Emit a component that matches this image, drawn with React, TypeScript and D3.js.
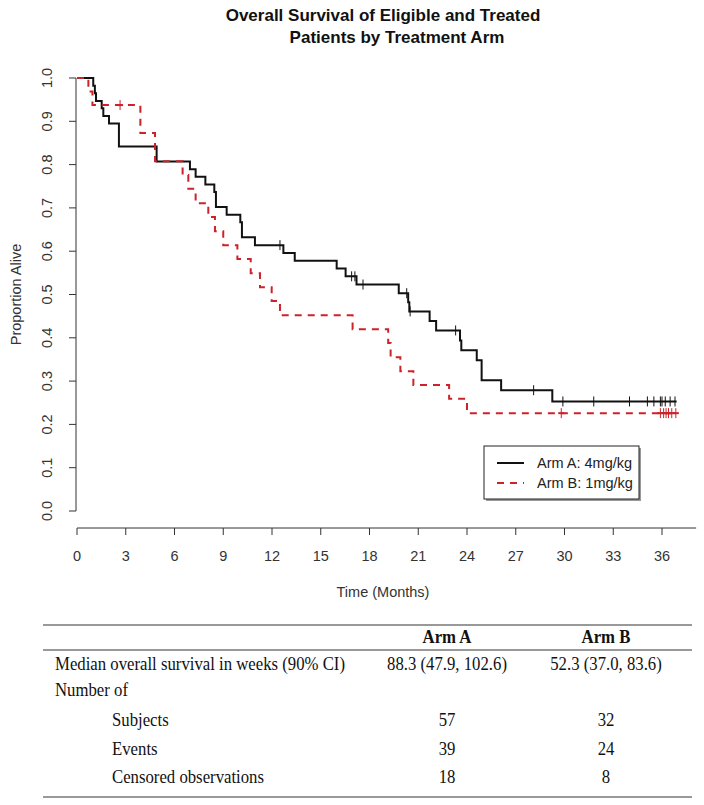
import React from 'react';
import * as d3 from 'd3';

// ---- Data ----
const armATimes = [0, 1.0, 1.1, 1.17, 1.52, 1.62, 1.97, 2.58, 4.9, 6.95, 7.3, 7.9, 8.45, 8.55, 9.21, 10.05, 10.15, 10.95, 12.7, 13.4, 15.98, 16.53, 17.2, 19.8, 20.38, 20.45, 21.7, 22.1, 23.57, 23.65, 24.6, 24.9, 26.1, 29.25, 36.9];
const armASurv = [1, 0.982, 0.965, 0.947, 0.930, 0.912, 0.895, 0.842, 0.807, 0.789, 0.772, 0.754, 0.737, 0.702, 0.684, 0.667, 0.632, 0.614, 0.596, 0.578, 0.560, 0.542, 0.523, 0.503, 0.482, 0.461, 0.439, 0.417, 0.394, 0.371, 0.348, 0.302, 0.279, 0.253, 0.253];
const armACensor = [12.49, 16.9, 17.1, 17.6, 20.29, 20.5, 23.3, 28.1, 29.9, 31.8, 34.0, 35.1, 35.5, 35.9, 36.0, 36.2, 36.5, 36.8];

const armBTimes = [0, 0.7, 0.95, 3.9, 4.8, 6.5, 6.85, 7.3, 8.08, 8.49, 9.0, 9.87, 10.69, 11.26, 11.98, 12.49, 16.96, 19.15, 19.3, 19.9, 20.7, 22.9, 24.0, 36.9];
const armBSurv = [1, 0.969, 0.9375, 0.873, 0.808, 0.776, 0.744, 0.711, 0.679, 0.646, 0.614, 0.582, 0.549, 0.517, 0.485, 0.452, 0.420, 0.388, 0.355, 0.323, 0.291, 0.259, 0.226, 0.226];
const armBCensor = [2.65, 29.8, 35.9, 36.1, 36.25, 36.4, 36.6, 36.85];

const xTicks = [0, 3, 6, 9, 12, 15, 18, 21, 24, 27, 30, 33, 36];
const yTicks = [0, 0.1, 0.2, 0.3, 0.4, 0.5, 0.6, 0.7, 0.8, 0.9, 1.0];

const legendLabels = ['Arm A: 4mg/kg', 'Arm B: 1mg/kg'];
const titleLines = ['Overall Survival of Eligible and Treated', 'Patients by Treatment Arm'];

const tableHeader = ['Arm A', 'Arm B'];
const rowLabels = ['Median overall survival in weeks (90% CI)', 'Number of', 'Subjects', 'Events', 'Censored observations'];
const rowIndented = [false, false, true, true, true];
const armAColumn = ['88.3 (47.9, 102.6)', '', '57', '39', '18'];
const armBColumn = ['52.3 (37.0, 83.6)', '', '32', '24', '8'];

const RED = '#cc2229';
const BLACK = '#111';
const SANS = '"Liberation Sans", Arial, sans-serif';
const SERIF = '"Liberation Serif", "Times New Roman", serif';
const AX_FS = 14.5;

function stepValue(times: number[], surv: number[], t: number) {
  let v = surv[0];
  for (let i = 0; i < times.length; i++) if (times[i] <= t) v = surv[i];
  return v;
}

function SerifText(props: { x: number; y: number; anchor?: string; bold?: boolean; children: React.ReactNode }) {
  return (
    <text
      transform={`translate(${props.x},${props.y}) scale(0.93,1)`}
      textAnchor={props.anchor || 'start'}
      fontFamily={SERIF}
      fontWeight={props.bold ? 'bold' : 'normal'}
      fontSize={18}
      fill="#111"
    >
      {props.children}
    </text>
  );
}

export default function App() {
  const x = d3.scaleLinear().domain([0, 36]).range([77, 662]);
  const y = d3.scaleLinear().domain([0, 1]).range([511, 78]);
  const line = d3
    .line<[number, number]>()
    .x((d) => x(d[0]))
    .y((d) => y(d[1]))
    .curve(d3.curveStepAfter);

  const pathA = line(armATimes.map((t, i) => [t, armASurv[i]] as [number, number])) || '';
  const pathB = line(armBTimes.map((t, i) => [t, armBSurv[i]] as [number, number])) || '';

  const rowY = [664, 690, 720, 749, 777];

  return (
    <svg
      width={704}
      height={805}
      style={{ position: 'absolute', left: 0, top: 0, background: '#fff' }}
    >
      <rect x={0} y={0} width={704} height={805} fill="#fff" />
      {/* Title */}
      <text x={383} y={21} textAnchor="middle" fontFamily={SANS} fontWeight="bold" fontSize={17} fill="#111">
        {titleLines[0]}
      </text>
      <text x={397} y={43} textAnchor="middle" fontFamily={SANS} fontWeight="bold" fontSize={17} fill="#111">
        {titleLines[1]}
      </text>

      {/* Y axis */}
      <line x1={76} x2={76} y1={y(0)} y2={y(1)} stroke="#333" strokeWidth={1} />
      {yTicks.map((v) => (
        <g key={'y' + v}>
          <line x1={69} x2={76} y1={y(v)} y2={y(v)} stroke="#333" strokeWidth={1} />
          <text
            transform={`translate(52,${y(v)}) rotate(-90)`}
            textAnchor="middle"
            fontFamily={SANS}
            fontSize={AX_FS}
            fill="#333"
          >
            {v.toFixed(1)}
          </text>
        </g>
      ))}
      <text
        transform={`translate(21,${(y(0) + y(1)) / 2}) rotate(-90)`}
        textAnchor="middle"
        fontFamily={SANS}
        fontSize={AX_FS}
        fill="#333"
      >
        Proportion Alive
      </text>

      {/* X axis */}
      <line x1={x(0)} x2={x(38.1)} y1={528} y2={528} stroke="#333" strokeWidth={1} />
      {xTicks.map((v) => (
        <g key={'x' + v}>
          <line x1={x(v)} x2={x(v)} y1={528} y2={535} stroke="#333" strokeWidth={1} />
          <text x={x(v)} y={561} textAnchor="middle" fontFamily={SANS} fontSize={AX_FS} fill="#333">
            {v}
          </text>
        </g>
      ))}
      <text x={383} y={597} textAnchor="middle" fontFamily={SANS} fontSize={AX_FS} fill="#333">
        Time (Months)
      </text>

      {/* Curves */}
      <path d={pathA} fill="none" stroke={BLACK} strokeWidth={2} />
      {armACensor.map((c, i) => {
        const yy = y(stepValue(armATimes, armASurv, c));
        return <line key={'ca' + i} x1={x(c)} x2={x(c)} y1={yy - 5} y2={yy + 5} stroke={BLACK} strokeWidth={1} />;
      })}
      <path d={pathB} fill="none" stroke={RED} strokeWidth={2} strokeDasharray="7,6" />
      {armBCensor.map((c, i) => {
        const yy = y(stepValue(armBTimes, armBSurv, c));
        return (
          <g key={'cb' + i}>
            <line x1={x(c)} x2={x(c)} y1={yy - 5} y2={yy + 5} stroke={RED} strokeWidth={1} />
            <line x1={x(c) - 3} x2={x(c) + 3} y1={yy} y2={yy} stroke={RED} strokeWidth={2} />
          </g>
        );
      })}

      {/* Legend */}
      <rect x={486} y={448} width={155} height={53} fill="#999" />
      <rect x={484} y={446} width={155} height={53} fill="#fff" stroke="#222" strokeWidth={1} />
      <line x1={497} x2={524} y1={463} y2={463} stroke={BLACK} strokeWidth={2} />
      <line x1={497} x2={524} y1={483} y2={483} stroke={RED} strokeWidth={2} strokeDasharray="7,6" />
      <text x={537} y={468} fontFamily={SANS} fontSize={AX_FS} fill="#222">
        {legendLabels[0]}
      </text>
      <text x={537} y={488} fontFamily={SANS} fontSize={AX_FS} fill="#222">
        {legendLabels[1]}
      </text>

      {/* Table */}
      <line x1={43} x2={692} y1={625} y2={625} stroke="#777" strokeWidth={1.5} />
      <line x1={43} x2={692} y1={650} y2={650} stroke="#777" strokeWidth={1.5} />
      <line x1={43} x2={692} y1={797} y2={797} stroke="#777" strokeWidth={1.5} />
      <SerifText x={447} y={643} anchor="middle" bold>
        {tableHeader[0]}
      </SerifText>
      <SerifText x={606} y={643} anchor="middle" bold>
        {tableHeader[1]}
      </SerifText>
      {rowLabels.map((lab, i) => (
        <g key={'r' + i}>
          <SerifText x={rowIndented[i] ? 112 : 55} y={rowY[i] + 6}>
            {lab}
          </SerifText>
          <SerifText x={447} y={rowY[i] + 6} anchor="middle">
            {armAColumn[i]}
          </SerifText>
          <SerifText x={606} y={rowY[i] + 6} anchor="middle">
            {armBColumn[i]}
          </SerifText>
        </g>
      ))}
    </svg>
  );
}
